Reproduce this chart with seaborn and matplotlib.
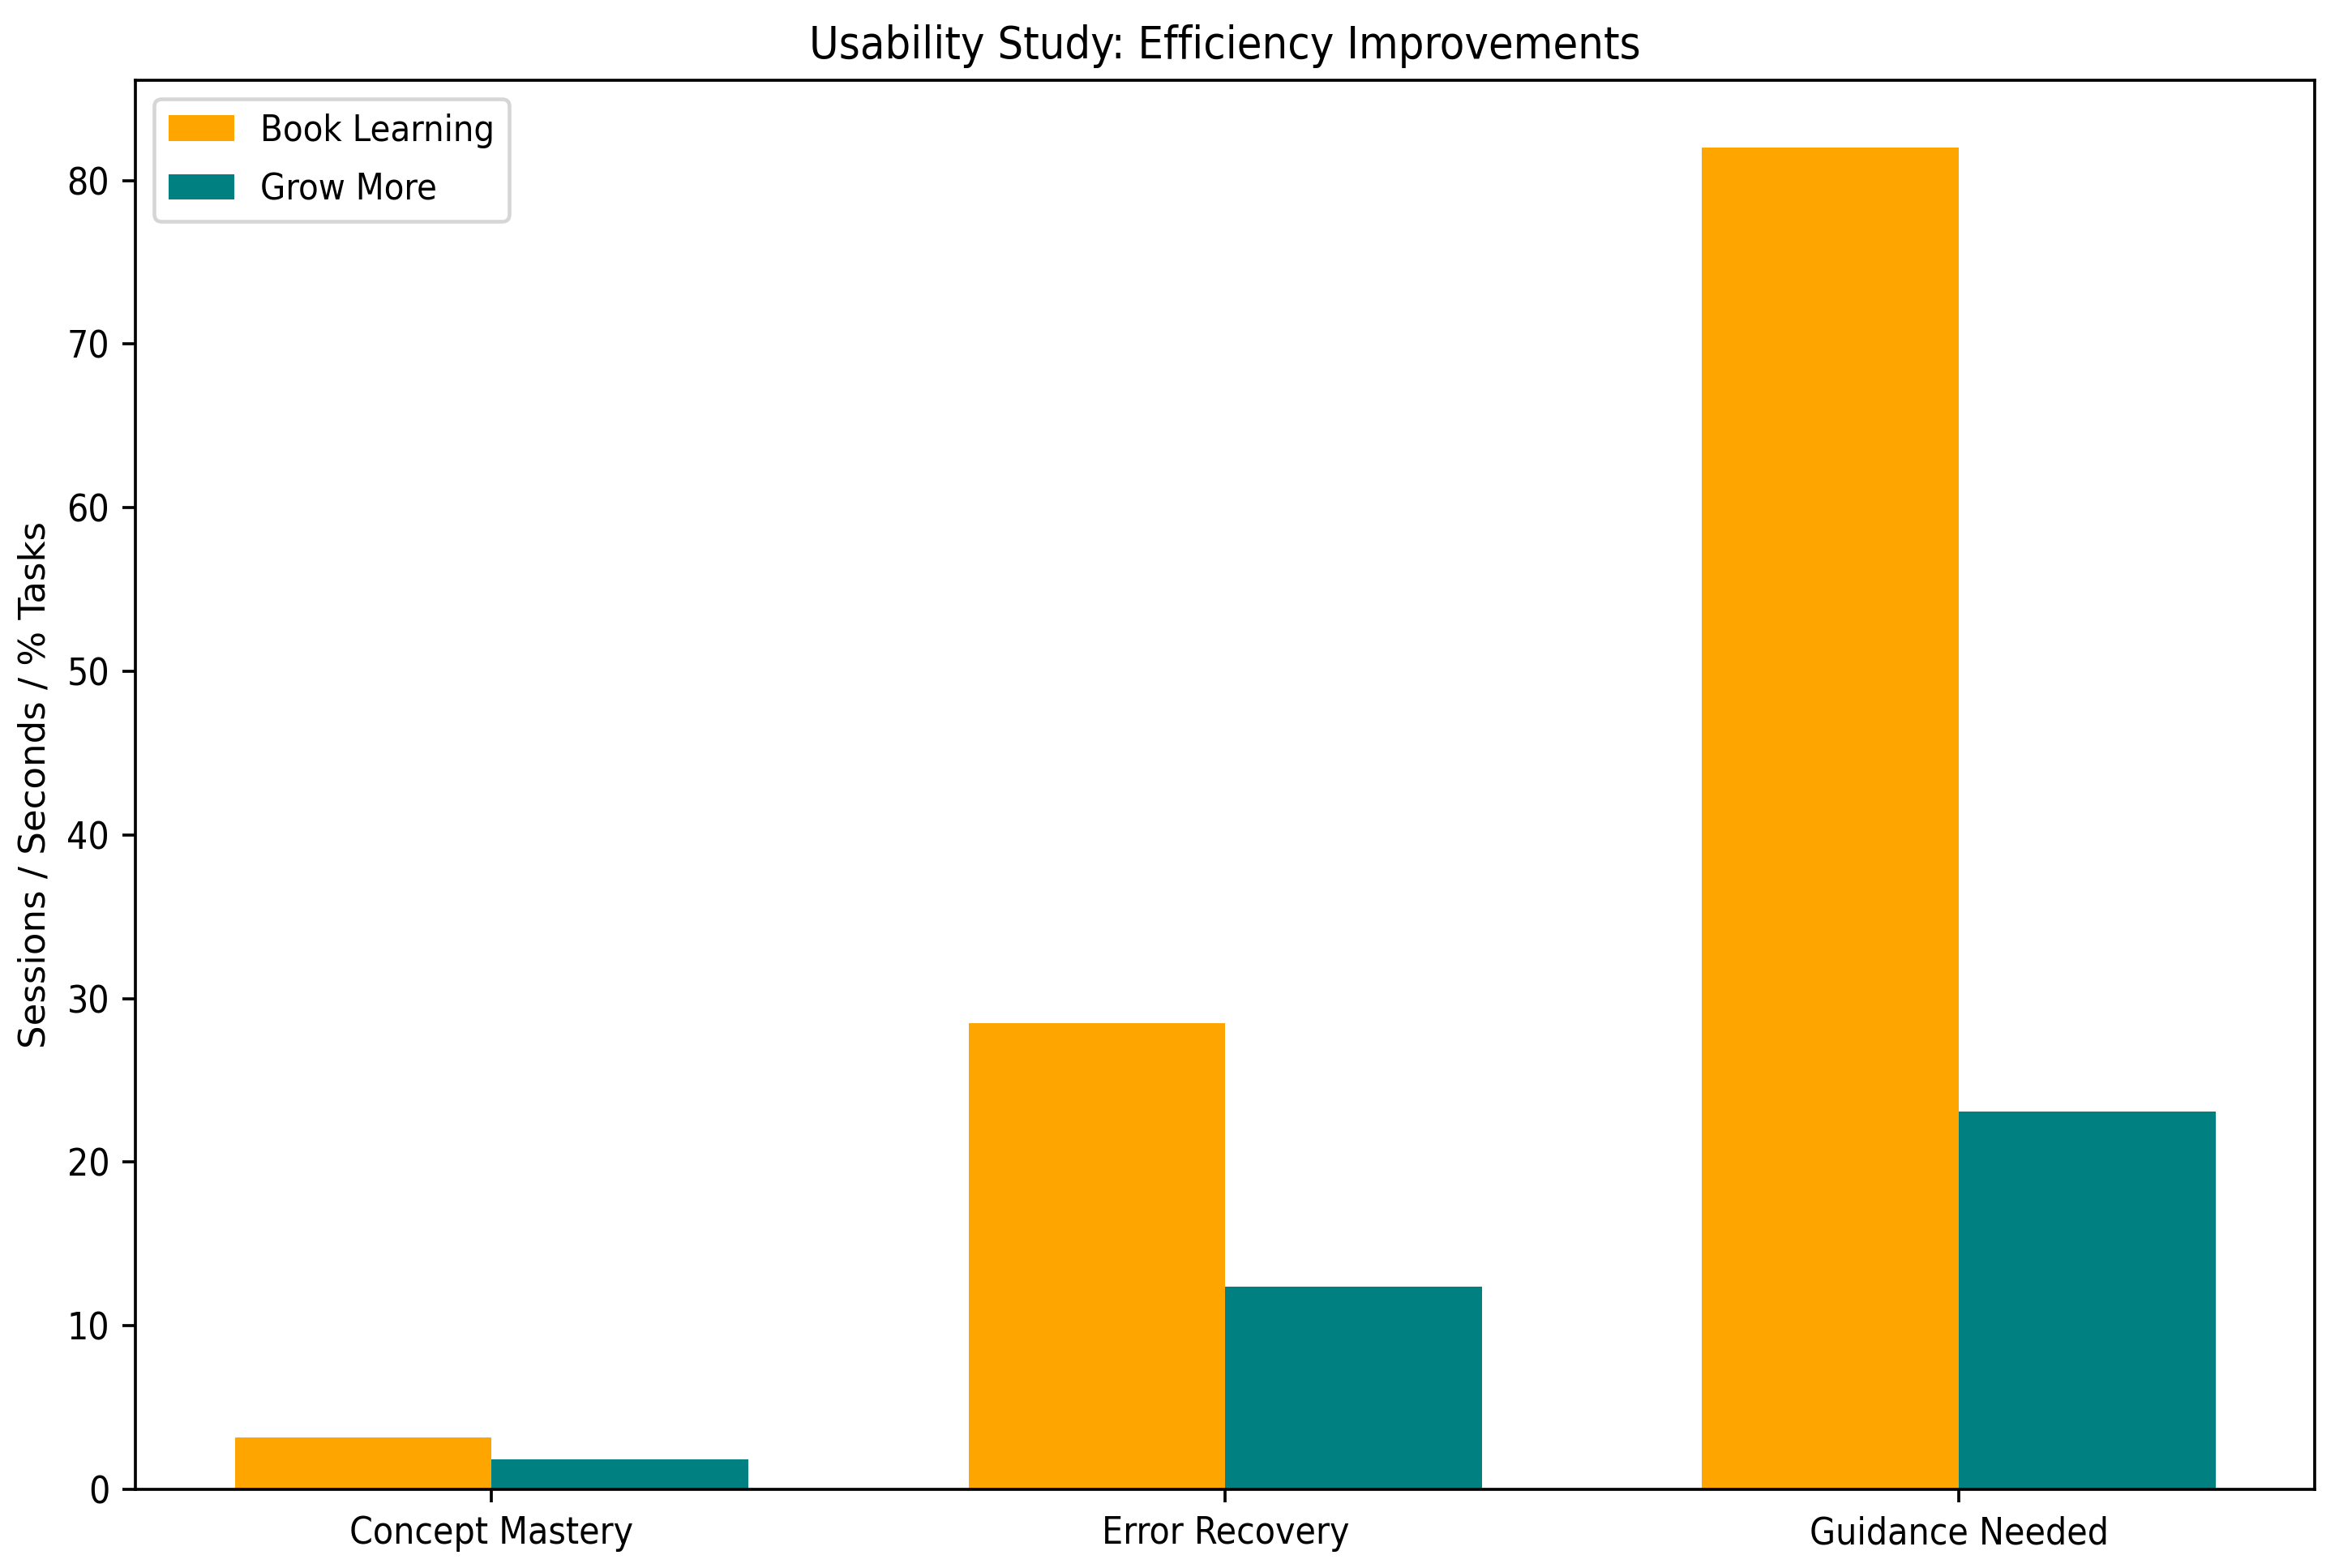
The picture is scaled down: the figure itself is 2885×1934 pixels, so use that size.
import pandas as pd
import matplotlib
matplotlib.use('Agg')
import matplotlib.pyplot as plt
from matplotlib import font_manager as fm
import seaborn as sns

categories = ['Concept Mastery', 'Error Recovery', 'Guidance Needed']
book_learning = [3.15, 28.5, 82.0]
grow_more = [1.85, 12.4, 23.1]
series_names = ['Book Learning', 'Grow More']
colors = ['#FFA500', '#008080']

# pick a narrow face if one is installed, the reference text is condensed
def narrow_family():
    for fam, stretch in [('DejaVu Sans', 'condensed'), ('Liberation Sans Narrow', 'normal')]:
        path = fm.findfont(fm.FontProperties(family=fam, stretch=stretch), fallback_to_default=False)
        if 'Condensed' in path or 'Narrow' in path:
            return fm.FontProperties(fname=path).get_name(), stretch
    return 'DejaVu Sans', 'normal'

fam, stretch = narrow_family()
plt.rcParams['font.family'] = [fam, 'DejaVu Sans']
plt.rcParams['font.stretch'] = stretch

df = pd.DataFrame({
    'metric': categories * 2,
    'value': book_learning + grow_more,
    'group': [series_names[0]] * 3 + [series_names[1]] * 3,
})

fig = plt.figure(figsize=(2886 / 331, 1934 / 331), dpi=331)
ax = fig.add_axes([0.058, 0.0502, 0.9313, 0.8984])
sns.barplot(data=df, x='metric', y='value', hue='group', palette=colors,
            width=0.7, saturation=1, linewidth=0, ax=ax)
ax.set_xlim(-0.485, 2.485)
ax.set_xlabel('')
ax.set_ylabel('Sessions / Seconds / % Tasks', family='DejaVu Sans', stretch='normal', fontsize=9.8)
ax.set_title('Usability Study: Efficiency Improvements', fontsize=12.1)
ax.legend(loc='upper left', handlelength=1.8, handletextpad=0.7, fontsize=9.8, labelspacing=0.65)
fig.savefig('out.png', dpi=331)
plt.close(fig)
